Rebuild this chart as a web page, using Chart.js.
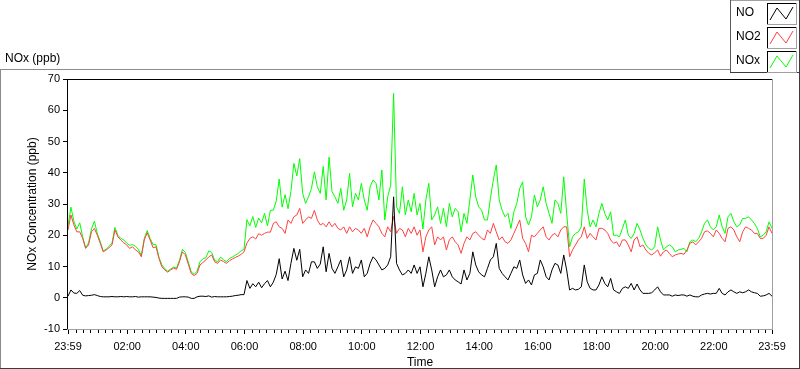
<!DOCTYPE html>
<html>
<head>
<meta charset="utf-8">
<script src="https://cdn.jsdelivr.net/npm/chart.js@4.4.1/dist/chart.umd.min.js"></script>
<style>
  html, body { margin: 0; padding: 0; background: #fff; }
</style>
</head>
<body>
<canvas id="chart" width="800" height="369"></canvas>
<script>
// sampling grid: one reading every 6 minutes, starting 23:59 the day before
const startMinute = -1;
const stepMinutes = 6;

// values, ppb (one row per hour)
const noValues = [
  0.5, 2.5, 1.5, 1.4, 2.3, 0.8, 0.6, 0.7, 0.8, 1.0,
  0.7, 0.4, 0.3, 0.3, 0.3, 0.4, 0.3, 0.3, 0.4, 0.3,
  0.4, 0.3, 0.3, 0.4, 0.2, 0.3, 0.3, 0.3, 0.3, 0.2,
  0.1, -0.1, -0.2, -0.2, -0.2, -0.2, -0.2, -0.2, 0.2, 0.3,
  0.3, 0.2, -0.2, -0.2, 0.3, 0.5, 0.5, 0.4, 0.6, 0.2,
  0.4, 0.3, 0.3, 0.3, 0.3, 0.4, 0.5, 0.7, 0.8, 1.0,
  1.0, 5.5, 3.0, 4.5, 3.5, 5.0, 3.2, 4.5, 5.5, 3.5,
  5.0, 7.5, 12.5, 6.0, 8.5, 5.5, 11.0, 15.8, 12.0, 15.5,
  6.7, 8.9, 7.8, 11.5, 11.5, 9.4, 10.8, 16.3, 8.3, 14.2,
  9.4, 7.8, 9.9, 12.1, 6.7, 8.9, 13.1, 7.8, 9.9, 9.4,
  12.1, 6.7, 7.8, 11.0, 13.1, 12.1, 10.5, 8.9, 9.4, 10.5,
  13.1, 32.3, 11.0, 8.9, 7.3, 7.8, 8.9, 7.8, 10.5, 7.8,
  9.9, 3.5, 7.8, 13.1, 8.9, 3.5, 6.7, 8.9, 6.7, 7.3,
  8.9, 6.7, 5.7, 5.1, 4.4, 8.9, 5.7, 7.8, 14.7, 10.5,
  8.3, 7.3, 6.7, 9.4, 12.1, 13.1, 17.4, 9.4, 7.8, 6.7,
  5.7, 7.8, 9.9, 9.4, 12.1, 7.3, 4.6, 5.7, 4.1, 7.3,
  7.8, 12.1, 9.9, 6.7, 5.7, 8.9, 11.0, 10.5, 7.8, 13.7,
  8.9, 2.5, 3.0, 2.5, 2.7, 3.5, 10.5, 5.1, 3.0, 2.5,
  2.5, 4.1, 6.7, 4.6, 3.5, 6.2, 2.5, 1.9, 1.4, 3.0,
  3.5, 3.0, 4.6, 2.5, 4.4, 2.5, 1.4, 1.4, 1.4, 1.6,
  2.5, 3.5, 1.9, 0.9, 0.9, 0.9, 0.5, 0.9, 0.7, 0.9,
  0.9, 0.5, 0.9, 0.5, 0.3, 0.3, 0.9, 1.2, 1.4, 1.2,
  1.4, 1.4, 3.0, 1.4, 0.9, 1.9, 2.5, 1.9, 1.4, 1.9,
  1.6, 1.9, 2.5, 1.9, 1.6, 1.4, 0.5, 0.6, 0.9, 1.4, 0.5
];

const no2Values = [
  21.7, 26.5, 23.3, 21.1, 21.1, 19.0, 15.8, 16.9, 21.1, 22.2,
  20.0, 17.4, 14.7, 15.3, 16.0, 16.9, 21.7, 19.5, 18.5, 17.6,
  16.9, 15.8, 16.3, 15.3, 14.7, 13.1, 18.5, 20.8, 18.5, 16.0,
  16.3, 12.6, 9.9, 8.9, 8.2, 8.9, 9.5, 9.1, 11.5, 14.7,
  13.7, 10.8, 7.8, 7.1, 7.8, 10.5, 11.3, 12.1, 13.1, 13.7,
  11.5, 11.0, 12.1, 11.6, 11.0, 11.8, 12.4, 12.9, 13.3, 13.9,
  14.7, 17.5, 19.0, 19.5, 18.8, 20.5, 20.0, 20.6, 21.0, 21.0,
  23.8, 24.3, 22.7, 22.2, 20.6, 24.9, 23.8, 25.9, 26.5, 28.6,
  23.8, 24.9, 25.9, 25.4, 28.0, 24.9, 23.3, 23.8, 22.7, 24.3,
  22.7, 23.8, 22.2, 21.7, 22.7, 20.6, 22.7, 21.1, 22.2, 21.7,
  20.6, 22.2, 19.5, 22.7, 24.9, 23.8, 22.7, 20.6, 19.5, 22.7,
  21.1, 26.0, 20.6, 22.2, 21.7, 19.5, 22.2, 20.6, 22.7, 20.0,
  21.7, 14.7, 19.5, 21.7, 22.7, 16.9, 19.5, 18.5, 19.5, 15.3,
  18.5, 19.5, 17.9, 16.9, 14.2, 17.4, 19.5, 18.5, 20.6, 21.1,
  20.0, 19.0, 18.5, 21.7, 20.6, 23.8, 21.1, 18.5, 19.5, 17.9,
  17.4, 18.5, 20.6, 22.7, 24.9, 19.0, 17.4, 14.7, 20.0, 19.5,
  20.6, 21.7, 22.7, 19.5, 18.5, 20.0, 20.6, 19.5, 21.7, 22.7,
  22.7, 13.1, 15.3, 16.9, 18.5, 19.5, 22.7, 19.0, 20.6, 19.5,
  18.5, 22.2, 22.2, 21.7, 20.6, 18.5, 17.4, 17.9, 16.3, 18.5,
  18.5, 16.9, 14.7, 18.5, 19.5, 16.3, 16.9, 15.3, 14.2, 13.7,
  14.4, 15.3, 13.3, 14.7, 15.3, 14.2, 13.1, 13.7, 14.0, 14.2,
  13.9, 15.3, 17.4, 17.9, 16.9, 17.9, 19.0, 21.1, 21.4, 20.6,
  19.5, 21.7, 20.6, 19.0, 17.9, 22.2, 22.7, 21.7, 19.5, 17.9,
  21.1, 22.7, 22.2, 21.7, 20.6, 20.6, 19.0, 19.0, 20.0, 22.7, 20.6
];

const noxValues = [
  23.0, 29.0, 24.5, 22.0, 24.0, 19.5, 16.0, 17.5, 22.0, 24.5,
  20.5, 18.0, 15.0, 15.5, 16.5, 17.5, 22.5, 20.0, 19.0, 18.5,
  17.5, 16.8, 17.0, 16.5, 15.5, 13.5, 19.0, 21.5, 19.0, 17.0,
  17.0, 13.0, 10.5, 9.3, 8.5, 9.2, 9.8, 9.5, 12.0, 15.5,
  14.5, 11.5, 8.3, 7.5, 8.5, 11.5, 12.5, 12.8, 15.0, 14.5,
  12.0, 11.5, 13.0, 12.2, 11.5, 12.5, 13.0, 13.6, 14.2, 15.0,
  15.5, 25.0, 23.0, 26.0, 22.5, 25.5, 24.0, 27.0, 23.0, 28.0,
  28.0, 31.0, 38.0, 29.0, 33.0, 28.5, 34.0, 43.0, 39.0, 44.5,
  33.4, 30.2, 32.3, 35.0, 40.3, 35.5, 33.4, 42.0, 31.3, 45.0,
  34.0, 32.3, 30.2, 35.0, 28.0, 31.3, 39.8, 29.1, 33.4, 31.3,
  36.6, 31.3, 28.0, 35.5, 37.7, 36.6, 31.3, 40.9, 24.9, 32.3,
  36.0, 65.4, 29.1, 27.0, 35.5, 26.5, 31.3, 27.5, 33.4, 26.5,
  30.2, 22.0, 31.3, 36.6, 24.9, 26.5, 29.1, 23.8, 28.6, 22.7,
  30.2, 25.9, 28.6, 27.5, 21.1, 27.0, 23.8, 31.3, 39.3, 32.3,
  29.1, 28.0, 24.9, 24.9, 31.8, 37.7, 42.5, 31.3, 28.0, 25.9,
  27.0, 22.2, 27.5, 30.2, 35.0, 37.1, 25.9, 23.3, 25.9, 32.9,
  29.1, 31.3, 35.5, 30.2, 27.0, 23.8, 31.3, 30.2, 27.0, 38.7,
  27.0, 16.3, 19.5, 20.6, 21.1, 22.7, 38.0, 28.0, 22.7, 24.9,
  22.7, 27.0, 30.2, 27.0, 24.9, 27.5, 20.0, 20.0, 19.5, 22.2,
  24.9, 20.0, 19.0, 20.6, 23.8, 21.7, 19.0, 16.9, 15.8, 15.3,
  16.3, 22.7, 18.5, 15.3, 16.3, 16.9, 16.3, 14.7, 15.3, 15.5,
  15.8, 14.7, 17.9, 18.5, 17.9, 19.0, 21.1, 23.8, 24.9, 22.7,
  21.7, 22.7, 26.5, 22.7, 20.6, 25.9, 27.0, 24.3, 22.7, 23.3,
  25.4, 25.4, 25.9, 24.9, 23.8, 22.2, 19.5, 20.0, 21.1, 24.3, 22.2
];

const seriesNames = ["NO", "NO2", "NOx"];
const seriesColors = ["#000000", "#ff4040", "#00ff00"];

// axis ticks
const xTickMinutes = [-1, 120, 240, 360, 480, 600, 720, 840, 960, 1080, 1200, 1320, 1439];
const xTickLabels = ["23:59", "02:00", "04:00", "06:00", "08:00", "10:00", "12:00",
                     "14:00", "16:00", "18:00", "20:00", "22:00", "23:59"];
const yTicks = [-10, 0, 10, 20, 30, 40, 50, 60, 70];

const FONT = "'Liberation Sans', Arial, sans-serif";

function toPoints(values) {
  return values.map((v, i) => ({ x: startMinute + i * stepMinutes, y: v }));
}

function hline(ctx, x1, x2, y, color) {
  ctx.fillStyle = color;
  ctx.fillRect(x1, y, x2 - x1 + 1, 1);
}
function vline(ctx, x, y1, y2, color) {
  ctx.fillStyle = color;
  ctx.fillRect(x, y1, 1, y2 - y1 + 1);
}

// frame, minor ticks, caption and legend in the LabVIEW look
const decorations = {
  id: "decorations",
  afterDraw(chart) {
    const ctx = chart.ctx;
    const a = chart.chartArea;
    const xs = chart.scales.x;
    ctx.save();

    // outer panel
    hline(ctx, 0, 729, 69, "#8c8c8c");
    vline(ctx, 0, 69, 368, "#8c8c8c");
    hline(ctx, 0, 799, 368, "#3c3c3c");
    vline(ctx, 799, 72, 368, "#3c3c3c");

    // plot frame
    const L = Math.round(a.left), R = Math.round(a.right);
    const T = Math.round(a.top), B = Math.round(a.bottom);
    hline(ctx, L - 1, R, T, "#000");
    vline(ctx, L - 1, T, B, "#000");
    vline(ctx, R, T, B, "#a0a0a0");
    hline(ctx, L - 1, R, B, "#a0a0a0");

    // minor ticks every 15 minutes
    for (let m = 15; m < 1439; m += 15) {
      if (m % 120 === 0) continue;
      const px = Math.round(xs.getPixelForValue(m));
      vline(ctx, px, B + 1, B + 3, "#000");
    }

    // caption
    ctx.font = "12px " + FONT;
    ctx.fillStyle = "#000";
    ctx.textBaseline = "middle";
    ctx.textAlign = "left";
    ctx.fillText("NOx (ppb)", 5, 59);

    // legend box
    ctx.fillStyle = "#fff";
    ctx.fillRect(730, 0, 70, 72);
    hline(ctx, 730, 799, 0, "#a0a0a0");
    vline(ctx, 730, 0, 72, "#5a5a5a");
    hline(ctx, 730, 799, 72, "#3c3c3c");
    vline(ctx, 799, 0, 72, "#3c3c3c");

    chart.data.datasets.forEach((ds, i) => {
      const rowY = 3 + i * 24;
      ctx.font = "12px " + FONT;
      ctx.fillStyle = "#000";
      ctx.textBaseline = "middle";
      ctx.fillText(ds.label, 736, rowY + 10);
      // icon box
      const bx = 767, bw = 29, bh = 21;
      ctx.fillStyle = "#fff";
      ctx.fillRect(bx, rowY, bw, bh);
      hline(ctx, bx, bx + bw, rowY, "#000");
      vline(ctx, bx, rowY, rowY + bh, "#000");
      hline(ctx, bx, bx + bw, rowY + bh, "#a0a0a0");
      vline(ctx, bx + bw, rowY, rowY + bh, "#a0a0a0");
      ctx.strokeStyle = ds.borderColor;
      ctx.lineWidth = 1;
      ctx.beginPath();
      ctx.moveTo(bx + 3, rowY + 17);
      ctx.lineTo(bx + 10, rowY + 5);
      ctx.lineTo(bx + 19, rowY + 16);
      ctx.lineTo(bx + 26, rowY + 4);
      ctx.stroke();
    });

    ctx.restore();
  }
};

const valueSets = [noValues, no2Values, noxValues];
const datasets = seriesNames.map((name, i) => ({
  label: name,
  data: toPoints(valueSets[i]),
  borderColor: seriesColors[i],
  borderWidth: 1,
  pointRadius: 0,
  tension: 0,
  fill: false
}));

new Chart(document.getElementById("chart"), {
  type: "line",
  data: { datasets: datasets },
  options: {
    responsive: false,
    animation: false,
    devicePixelRatio: 1,
    layout: { padding: { left: 0, right: 28, top: 79, bottom: 0 } },
    plugins: { legend: { display: false }, tooltip: { enabled: false } },
    scales: {
      x: {
        type: "linear",
        min: -1,
        max: 1439,
        afterBuildTicks: (scale) => { scale.ticks = xTickMinutes.map(v => ({ value: v })); },
        afterFit: (scale) => { scale.height = 40; },
        ticks: {
          autoSkip: false,
          maxRotation: 0,
          padding: 6,
          color: "#000",
          font: { family: FONT, size: 11 },
          callback: (v) => xTickLabels[xTickMinutes.indexOf(v)]
        },
        grid: { drawOnChartArea: false, tickLength: 5, color: "#000" },
        border: { display: false },
        title: {
          display: true,
          text: "Time",
          color: "#000",
          font: { family: FONT, size: 12, lineHeight: 1.1 },
          padding: { top: 0, bottom: 0 }
        }
      },
      y: {
        min: -10,
        max: 70,
        afterBuildTicks: (scale) => { scale.ticks = yTicks.map(v => ({ value: v })); },
        afterFit: (scale) => { scale.width = 68; },
        ticks: {
          padding: 3,
          color: "#000",
          font: { family: FONT, size: 11 }
        },
        grid: { drawOnChartArea: false, tickLength: 5, color: "#000" },
        border: { display: false },
        title: {
          display: true,
          text: "NOx Concentration (ppb)",
          color: "#000",
          font: { family: FONT, size: 12 },
          padding: { top: 25, bottom: 0 }
        }
      }
    }
  },
  plugins: [decorations]
});
</script>
</body>
</html>
